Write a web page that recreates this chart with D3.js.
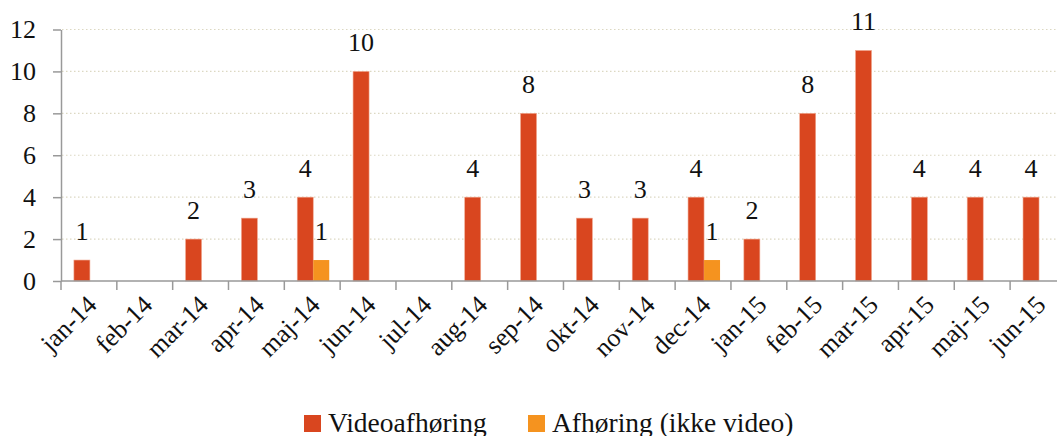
<!DOCTYPE html>
<html>
<head>
<meta charset="utf-8">
<script src="https://cdn.jsdelivr.net/npm/d3@7"></script>
<style>
  body { margin: 0; background: #fff; }
  svg { display: block; }
  svg text { font-family: "Liberation Serif", "Times New Roman", "DejaVu Serif", serif; }
</style>
</head>
<body>
<svg id="chart" width="1057" height="436"></svg>
<script>
// data
const months = ["jan-14","feb-14","mar-14","apr-14","maj-14","jun-14","jul-14","aug-14","sep-14",
  "okt-14","nov-14","dec-14","jan-15","feb-15","mar-15","apr-15","maj-15","jun-15"];
const video = [1,0,2,3,4,10,0,4,8,3,3,4,2,8,11,4,4,4];
const ikkeVideo = [0,0,0,0,1,0,0,0,0,0,0,1,0,0,0,0,0,0];
const seriesNames = ["Videoafhøring", "Afhøring (ikke video)"];
const yTicks = [0,2,4,6,8,10,12];

const colors = ["#D9461F", "#F5931F"];
const fontSize = 26;

const svg = d3.select("#chart");
const plotLeft = 61, plotTop = 29.5, plotBottom = 281, band = 55.83;

const x = d3.scaleBand().domain(months).range([plotLeft, plotLeft + band * months.length]).padding(0);
const x1 = d3.scaleBand().domain(seriesNames).range([0, 32]);
const y = d3.scaleLinear().domain([0, 12]).range([plotBottom, plotTop]);

// grid
svg.append("g")
  .selectAll("line")
  .data(yTicks.filter(d => d > 0))
  .join("line")
  .attr("x1", plotLeft + 1).attr("x2", 1057)
  .attr("y1", d => y(d)).attr("y2", d => y(d))
  .attr("stroke", "#dcd8c2")
  .attr("stroke-width", 1.2)
  .attr("stroke-dasharray", "1.5 2.5");

// y axis
const yAxis = svg.append("g")
  .attr("transform", `translate(${plotLeft},0)`)
  .call(d3.axisLeft(y).tickValues(yTicks).tickSize(8).tickPadding(17).tickSizeOuter(0))
  .attr("font-family", null);
yAxis.select(".domain").attr("stroke", "#999").attr("stroke-width", 1.5);
yAxis.selectAll(".tick line").attr("stroke", "#999").attr("stroke-width", 1.5);
yAxis.selectAll("text")
  .attr("font-size", fontSize)
  .attr("fill", "#111");

// bars
const rows = months.map((m, i) => ({ month: m, vals: [video[i], ikkeVideo[i]] }));

const groups = svg.append("g")
  .selectAll("g")
  .data(rows)
  .join("g")
  .attr("transform", d => `translate(${x(d.month) + (x.bandwidth() - 32) / 2 + 1},0)`);

groups.selectAll("rect")
  .data(d => d.vals.map((v, j) => ({ v, s: seriesNames[j], j })).filter(e => e.v > 0))
  .join("rect")
  .attr("x", d => x1(d.s))
  .attr("width", x1.bandwidth())
  .attr("y", d => y(d.v))
  .attr("height", d => y(0) - y(d.v))
  .attr("fill", d => colors[d.j])
  .attr("stroke", d => d.j === 0 ? "#f0a890" : "none")
  .attr("stroke-width", 0.6);

groups.selectAll("text")
  .data(d => d.vals.map((v, j) => ({ v, s: seriesNames[j], j })).filter(e => e.v > 0))
  .join("text")
  .attr("x", d => x1(d.s) + x1.bandwidth() / 2)
  .attr("y", d => y(d.v) - 20)
  .attr("text-anchor", "middle")
  .attr("font-size", fontSize)
  .attr("fill", "#111")
  .text(d => d.v);

// x axis
svg.append("line")
  .attr("x1", plotLeft).attr("x2", 1057)
  .attr("y1", plotBottom).attr("y2", plotBottom)
  .attr("stroke", "#999").attr("stroke-width", 1.5);

svg.append("g")
  .selectAll("line")
  .data(months)
  .join("line")
  .attr("x1", d => x(d)).attr("x2", d => x(d))
  .attr("y1", plotBottom).attr("y2", plotBottom + 9)
  .attr("stroke", "#999").attr("stroke-width", 1.5);

svg.append("g")
  .selectAll("text")
  .data(months)
  .join("text")
  .attr("transform", d => `translate(${x(d) + x.bandwidth() / 2 + 5},${plotBottom + 21}) rotate(-45)`)
  .attr("text-anchor", "end")
  .attr("dominant-baseline", "middle")
  .attr("font-size", fontSize)
  .attr("fill", "#111")
  .text(d => d);

// legend
const legend = svg.append("g").attr("transform", "translate(304,415)");
const legX = [0, 224];
seriesNames.forEach((s, i) => {
  const g = legend.append("g").attr("transform", `translate(${legX[i]},0)`);
  g.append("rect").attr("width", 17).attr("height", 17).attr("fill", colors[i]);
  g.append("text").attr("x", 24).attr("y", 16.5).attr("font-size", 27.5).attr("fill", "#111").text(s);
});
</script>
</body>
</html>
